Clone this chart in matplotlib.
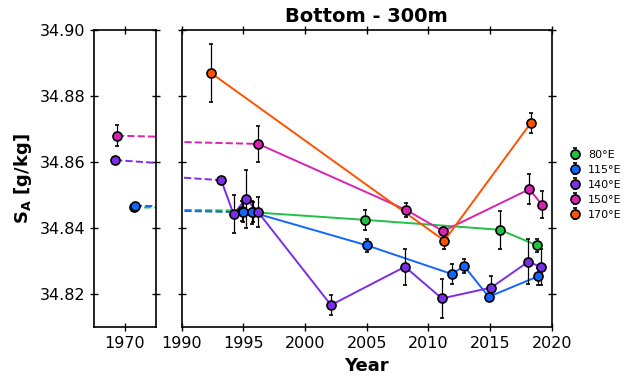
import numpy as np
import matplotlib
matplotlib.use("Agg")
import matplotlib.pyplot as plt

# values (year, S_A, error)
labels = ["80°E", "115°E", "140°E", "150°E", "170°E"]
colors = ["#22c044", "#1266ff", "#7a2ee8", "#d824b0", "#ff5200"]

# early (1960s/70s) points shown in the left panel
early_year = {
    "80°E": 1970.7, "115°E": 1970.8, "140°E": 1969.2, "150°E": 1969.35,
}
early_val = {
    "80°E": 34.8463, "115°E": 34.8468, "140°E": 34.8606, "150°E": 34.8680,
}
early_err = {
    "80°E": 0.0006, "115°E": 0.0006, "140°E": 0.0006, "150°E": 0.0032,
}

yr_80 = [1994.9, 1995.8, 2004.9, 2015.8, 2018.8]
val_80 = [34.8453, 34.8448, 34.8425, 34.8395, 34.8348]
err_80 = [0.0030, 0.0030, 0.0030, 0.0058, 0.0020]

yr_115 = [1995.0, 1995.7, 2005.0, 2011.9, 2012.9, 2014.9, 2018.9]
val_115 = [34.8448, 34.8448, 34.8348, 34.8261, 34.8285, 34.8192, 34.8254]
err_115 = [0.0030, 0.0035, 0.0020, 0.0030, 0.0020, 0.0010, 0.0025]

yr_140 = [1993.2, 1994.2, 1995.2, 1996.2, 2002.1, 2008.1, 2011.1, 2015.1,
          2018.1, 2019.1]
val_140 = [34.8545, 34.8442, 34.8489, 34.8448, 34.8167, 34.8283, 34.8187,
           34.8220, 34.8298, 34.8283]
err_140 = [0.0010, 0.0057, 0.0088, 0.0045, 0.0030, 0.0054, 0.0060, 0.0035,
           0.0068, 0.0055]

yr_150 = [1996.2, 2008.2, 2011.2, 2018.2, 2019.2]
val_150 = [34.8655, 34.8455, 34.8391, 34.8518, 34.8471]
err_150 = [0.0055, 0.0020, 0.0010, 0.0045, 0.0040]

yr_170 = [1992.4, 2011.3, 2018.3]
val_170 = [34.8869, 34.8362, 34.8718]
err_170 = [0.0088, 0.0025, 0.0030]

series = {
    "80°E": (yr_80, val_80, err_80),
    "115°E": (yr_115, val_115, err_115),
    "140°E": (yr_140, val_140, err_140),
    "150°E": (yr_150, val_150, err_150),
    "170°E": (yr_170, val_170, err_170),
}

fig = plt.figure(figsize=(6.29, 3.80), dpi=100)
ax_l = fig.add_axes([0.150, 0.139, 0.0975, 0.782])
ax = fig.add_axes([0.289, 0.139, 0.588, 0.782])

mk = dict(fmt="o", ms=6.5, mec="black", mew=1.2, ecolor="black",
          elinewidth=0.9, capsize=1.5, capthick=0.9, zorder=3)

for lab, col in zip(labels, colors):
    yr, val, err = series[lab]
    if lab in early_year:
        # dashed link from the early point to the first modern point
        xs = [early_year[lab], yr[0]]
        ys = [early_val[lab], val[0]]
        for a in (ax_l, ax):
            a.plot(xs, ys, ls="--", color=col, lw=1.4, zorder=2)
        ax_l.errorbar([early_year[lab]], [early_val[lab]], yerr=[early_err[lab]],
                      mfc=col, **mk)
    ax.plot(yr, val, color=col, lw=1.4, zorder=2)
    ax.errorbar(yr, val, yerr=err, mfc=col, label=lab, **mk)

for a in (ax_l, ax):
    a.set_ylim(34.81, 34.90)
    a.set_yticks([34.82, 34.84, 34.86, 34.88, 34.90])
    a.tick_params(direction="inout", length=6, width=1, top=True, right=True,
                  labelsize=11.5)
    for s in a.spines.values():
        s.set_linewidth(1.2)

ax_l.set_xlim(1967.5, 1972.5)
ax_l.set_xticks([1970])
ax_l.set_yticklabels(["34.82", "34.84", "34.86", "34.88", "34.90"])
ax_l.set_ylabel("S$_\\mathregular{A}$ [g/kg]", fontsize=13, fontweight="bold")

ax.set_xlim(1990, 2020)
ax.set_xticks(np.arange(1990, 2021, 5))
ax.set_yticklabels([])
ax.set_xlabel("Year", fontsize=13, fontweight="bold")
ax.set_title("Bottom - 300m", fontsize=14, fontweight="bold")

ax.legend(loc="center left", bbox_to_anchor=(1.015, 0.48), frameon=False,
          fontsize=8, handlelength=1.2, handletextpad=0.6, labelspacing=0.45,
          borderaxespad=0.6)

fig.savefig("out.png", dpi=100)
